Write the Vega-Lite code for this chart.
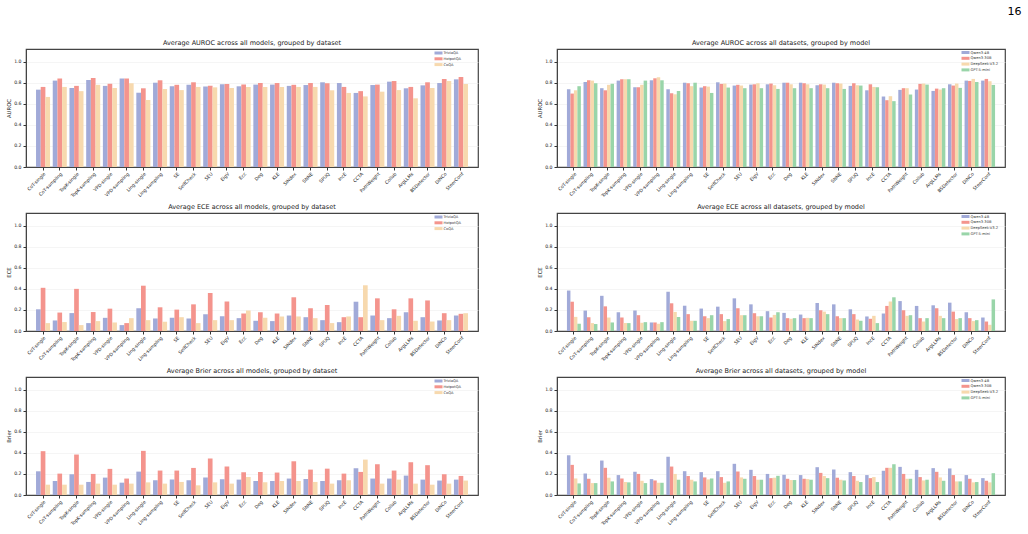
{
"$schema":"https://vega.github.io/schema/vega-lite/v6.json",
"padding":{"left":6,"top":5,"right":8,"bottom":0},
"title":{"text":"16","anchor":"end","fontSize":11,"font":"DejaVu Sans","fontWeight":"normal","color":"#000","dx":16,"offset":22},
"config":{
 "font":"DejaVu Sans",
 "view":{"stroke":"#444","strokeWidth":1.2},
 "title":{"fontSize":6.5,"fontWeight":"normal","color":"#222","offset":3},
 "axis":{"labelFontSize":4.6,"titleFontSize":5.3,"titleFontWeight":"normal","labelColor":"#222","titleColor":"#222","tickColor":"#333","tickSize":3,"domainColor":"#444","gridColor":"#eeeeee","gridWidth":0.6},
 "axisY":{"labelPadding":2,"titlePadding":2},
 "axisX":{"labelPadding":1},
 "legend":{"orient":"none","legendX":408,"legendY":1,"labelFontSize":3.6,"labelColor":"#333","symbolType":"M-1.6,-0.6H1.6V0.6H-1.6Z","symbolSize":25,"symbolStrokeWidth":0,"rowPadding":0.8,"labelOffset":2.5,"padding":0,"title":null,"symbolOpacity":1}
},
"datasets":{
"ds":[
{"method":"CoT-single","group":"TriviaQA","metric":"AUROC","value":0.734},{"method":"CoT-single","group":"HotpotQA","metric":"AUROC","value":0.760},{"method":"CoT-single","group":"CoQA","metric":"AUROC","value":0.665},
{"method":"CoT-sampling","group":"TriviaQA","metric":"AUROC","value":0.820},{"method":"CoT-sampling","group":"HotpotQA","metric":"AUROC","value":0.840},{"method":"CoT-sampling","group":"CoQA","metric":"AUROC","value":0.760},
{"method":"TopK-single","group":"TriviaQA","metric":"AUROC","value":0.750},{"method":"TopK-single","group":"HotpotQA","metric":"AUROC","value":0.770},{"method":"TopK-single","group":"CoQA","metric":"AUROC","value":0.720},
{"method":"TopK-sampling","group":"TriviaQA","metric":"AUROC","value":0.826},{"method":"TopK-sampling","group":"HotpotQA","metric":"AUROC","value":0.845},{"method":"TopK-sampling","group":"CoQA","metric":"AUROC","value":0.780},
{"method":"VPD-single","group":"TriviaQA","metric":"AUROC","value":0.770},{"method":"VPD-single","group":"HotpotQA","metric":"AUROC","value":0.790},{"method":"VPD-single","group":"CoQA","metric":"AUROC","value":0.750},
{"method":"VPD-sampling","group":"TriviaQA","metric":"AUROC","value":0.840},{"method":"VPD-sampling","group":"HotpotQA","metric":"AUROC","value":0.840},{"method":"VPD-sampling","group":"CoQA","metric":"AUROC","value":0.795},
{"method":"Ling-single","group":"TriviaQA","metric":"AUROC","value":0.705},{"method":"Ling-single","group":"HotpotQA","metric":"AUROC","value":0.747},{"method":"Ling-single","group":"CoQA","metric":"AUROC","value":0.636},
{"method":"Ling-sampling","group":"TriviaQA","metric":"AUROC","value":0.800},{"method":"Ling-sampling","group":"HotpotQA","metric":"AUROC","value":0.823},{"method":"Ling-sampling","group":"CoQA","metric":"AUROC","value":0.740},
{"method":"SE","group":"TriviaQA","metric":"AUROC","value":0.766},{"method":"SE","group":"HotpotQA","metric":"AUROC","value":0.780},{"method":"SE","group":"CoQA","metric":"AUROC","value":0.730},
{"method":"SelfCheck","group":"TriviaQA","metric":"AUROC","value":0.780},{"method":"SelfCheck","group":"HotpotQA","metric":"AUROC","value":0.804},{"method":"SelfCheck","group":"CoQA","metric":"AUROC","value":0.760},
{"method":"SEU","group":"TriviaQA","metric":"AUROC","value":0.763},{"method":"SEU","group":"HotpotQA","metric":"AUROC","value":0.772},{"method":"SEU","group":"CoQA","metric":"AUROC","value":0.756},
{"method":"EigV","group":"TriviaQA","metric":"AUROC","value":0.785},{"method":"EigV","group":"HotpotQA","metric":"AUROC","value":0.788},{"method":"EigV","group":"CoQA","metric":"AUROC","value":0.750},
{"method":"Ecc","group":"TriviaQA","metric":"AUROC","value":0.766},{"method":"Ecc","group":"HotpotQA","metric":"AUROC","value":0.782},{"method":"Ecc","group":"CoQA","metric":"AUROC","value":0.760},
{"method":"Deg","group":"TriviaQA","metric":"AUROC","value":0.782},{"method":"Deg","group":"HotpotQA","metric":"AUROC","value":0.797},{"method":"Deg","group":"CoQA","metric":"AUROC","value":0.760},
{"method":"KLE","group":"TriviaQA","metric":"AUROC","value":0.782},{"method":"KLE","group":"HotpotQA","metric":"AUROC","value":0.797},{"method":"KLE","group":"CoQA","metric":"AUROC","value":0.760},
{"method":"SINdex","group":"TriviaQA","metric":"AUROC","value":0.770},{"method":"SINdex","group":"HotpotQA","metric":"AUROC","value":0.780},{"method":"SINdex","group":"CoQA","metric":"AUROC","value":0.760},
{"method":"SNNE","group":"TriviaQA","metric":"AUROC","value":0.778},{"method":"SNNE","group":"HotpotQA","metric":"AUROC","value":0.797},{"method":"SNNE","group":"CoQA","metric":"AUROC","value":0.760},
{"method":"SPUQ","group":"TriviaQA","metric":"AUROC","value":0.804},{"method":"SPUQ","group":"HotpotQA","metric":"AUROC","value":0.795},{"method":"SPUQ","group":"CoQA","metric":"AUROC","value":0.728},
{"method":"IncE","group":"TriviaQA","metric":"AUROC","value":0.797},{"method":"IncE","group":"HotpotQA","metric":"AUROC","value":0.760},{"method":"IncE","group":"CoQA","metric":"AUROC","value":0.703},
{"method":"CCTA","group":"TriviaQA","metric":"AUROC","value":0.703},{"method":"CCTA","group":"HotpotQA","metric":"AUROC","value":0.720},{"method":"CCTA","group":"CoQA","metric":"AUROC","value":0.670},
{"method":"PathWeight","group":"TriviaQA","metric":"AUROC","value":0.778},{"method":"PathWeight","group":"HotpotQA","metric":"AUROC","value":0.782},{"method":"PathWeight","group":"CoQA","metric":"AUROC","value":0.715},
{"method":"Collab","group":"TriviaQA","metric":"AUROC","value":0.810},{"method":"Collab","group":"HotpotQA","metric":"AUROC","value":0.816},{"method":"Collab","group":"CoQA","metric":"AUROC","value":0.730},
{"method":"ArgLLMs","group":"TriviaQA","metric":"AUROC","value":0.747},{"method":"ArgLLMs","group":"HotpotQA","metric":"AUROC","value":0.760},{"method":"ArgLLMs","group":"CoQA","metric":"AUROC","value":0.652},
{"method":"BSDetector","group":"TriviaQA","metric":"AUROC","value":0.775},{"method":"BSDetector","group":"HotpotQA","metric":"AUROC","value":0.804},{"method":"BSDetector","group":"CoQA","metric":"AUROC","value":0.750},
{"method":"DiNCo","group":"TriviaQA","metric":"AUROC","value":0.797},{"method":"DiNCo","group":"HotpotQA","metric":"AUROC","value":0.835},{"method":"DiNCo","group":"CoQA","metric":"AUROC","value":0.816},
{"method":"SteerConf","group":"TriviaQA","metric":"AUROC","value":0.832},{"method":"SteerConf","group":"HotpotQA","metric":"AUROC","value":0.854},{"method":"SteerConf","group":"CoQA","metric":"AUROC","value":0.788},

{"method":"CoT-single","group":"TriviaQA","metric":"ECE","value":0.206},{"method":"CoT-single","group":"HotpotQA","metric":"ECE","value":0.410},{"method":"CoT-single","group":"CoQA","metric":"ECE","value":0.075},
{"method":"CoT-sampling","group":"TriviaQA","metric":"ECE","value":0.100},{"method":"CoT-sampling","group":"HotpotQA","metric":"ECE","value":0.175},{"method":"CoT-sampling","group":"CoQA","metric":"ECE","value":0.085},
{"method":"TopK-single","group":"TriviaQA","metric":"ECE","value":0.170},{"method":"TopK-single","group":"HotpotQA","metric":"ECE","value":0.400},{"method":"TopK-single","group":"CoQA","metric":"ECE","value":0.056},
{"method":"TopK-sampling","group":"TriviaQA","metric":"ECE","value":0.075},{"method":"TopK-sampling","group":"HotpotQA","metric":"ECE","value":0.180},{"method":"TopK-sampling","group":"CoQA","metric":"ECE","value":0.094},
{"method":"VPD-single","group":"TriviaQA","metric":"ECE","value":0.125},{"method":"VPD-single","group":"HotpotQA","metric":"ECE","value":0.212},{"method":"VPD-single","group":"CoQA","metric":"ECE","value":0.081},
{"method":"VPD-sampling","group":"TriviaQA","metric":"ECE","value":0.056},{"method":"VPD-sampling","group":"HotpotQA","metric":"ECE","value":0.075},{"method":"VPD-sampling","group":"CoQA","metric":"ECE","value":0.122},
{"method":"Ling-single","group":"TriviaQA","metric":"ECE","value":0.216},{"method":"Ling-single","group":"HotpotQA","metric":"ECE","value":0.430},{"method":"Ling-single","group":"CoQA","metric":"ECE","value":0.103},
{"method":"Ling-sampling","group":"TriviaQA","metric":"ECE","value":0.119},{"method":"Ling-sampling","group":"HotpotQA","metric":"ECE","value":0.225},{"method":"Ling-sampling","group":"CoQA","metric":"ECE","value":0.088},
{"method":"SE","group":"TriviaQA","metric":"ECE","value":0.125},{"method":"SE","group":"HotpotQA","metric":"ECE","value":0.203},{"method":"SE","group":"CoQA","metric":"ECE","value":0.131},
{"method":"SelfCheck","group":"TriviaQA","metric":"ECE","value":0.119},{"method":"SelfCheck","group":"HotpotQA","metric":"ECE","value":0.253},{"method":"SelfCheck","group":"CoQA","metric":"ECE","value":0.075},
{"method":"SEU","group":"TriviaQA","metric":"ECE","value":0.160},{"method":"SEU","group":"HotpotQA","metric":"ECE","value":0.360},{"method":"SEU","group":"CoQA","metric":"ECE","value":0.103},
{"method":"EigV","group":"TriviaQA","metric":"ECE","value":0.140},{"method":"EigV","group":"HotpotQA","metric":"ECE","value":0.280},{"method":"EigV","group":"CoQA","metric":"ECE","value":0.103},
{"method":"Ecc","group":"TriviaQA","metric":"ECE","value":0.122},{"method":"Ecc","group":"HotpotQA","metric":"ECE","value":0.166},{"method":"Ecc","group":"CoQA","metric":"ECE","value":0.194},
{"method":"Deg","group":"TriviaQA","metric":"ECE","value":0.097},{"method":"Deg","group":"HotpotQA","metric":"ECE","value":0.178},{"method":"Deg","group":"CoQA","metric":"ECE","value":0.125},
{"method":"KLE","group":"TriviaQA","metric":"ECE","value":0.094},{"method":"KLE","group":"HotpotQA","metric":"ECE","value":0.166},{"method":"KLE","group":"CoQA","metric":"ECE","value":0.138},
{"method":"SINdex","group":"TriviaQA","metric":"ECE","value":0.147},{"method":"SINdex","group":"HotpotQA","metric":"ECE","value":0.320},{"method":"SINdex","group":"CoQA","metric":"ECE","value":0.138},
{"method":"SNNE","group":"TriviaQA","metric":"ECE","value":0.131},{"method":"SNNE","group":"HotpotQA","metric":"ECE","value":0.216},{"method":"SNNE","group":"CoQA","metric":"ECE","value":0.122},
{"method":"SPUQ","group":"TriviaQA","metric":"ECE","value":0.103},{"method":"SPUQ","group":"HotpotQA","metric":"ECE","value":0.247},{"method":"SPUQ","group":"CoQA","metric":"ECE","value":0.075},
{"method":"IncE","group":"TriviaQA","metric":"ECE","value":0.084},{"method":"IncE","group":"HotpotQA","metric":"ECE","value":0.131},{"method":"IncE","group":"CoQA","metric":"ECE","value":0.138},
{"method":"CCTA","group":"TriviaQA","metric":"ECE","value":0.278},{"method":"CCTA","group":"HotpotQA","metric":"ECE","value":0.131},{"method":"CCTA","group":"CoQA","metric":"ECE","value":0.434},
{"method":"PathWeight","group":"TriviaQA","metric":"ECE","value":0.147},{"method":"PathWeight","group":"HotpotQA","metric":"ECE","value":0.310},{"method":"PathWeight","group":"CoQA","metric":"ECE","value":0.103},
{"method":"Collab","group":"TriviaQA","metric":"ECE","value":0.122},{"method":"Collab","group":"HotpotQA","metric":"ECE","value":0.206},{"method":"Collab","group":"CoQA","metric":"ECE","value":0.144},
{"method":"ArgLLMs","group":"TriviaQA","metric":"ECE","value":0.178},{"method":"ArgLLMs","group":"HotpotQA","metric":"ECE","value":0.310},{"method":"ArgLLMs","group":"CoQA","metric":"ECE","value":0.097},
{"method":"BSDetector","group":"TriviaQA","metric":"ECE","value":0.131},{"method":"BSDetector","group":"HotpotQA","metric":"ECE","value":0.290},{"method":"BSDetector","group":"CoQA","metric":"ECE","value":0.090},
{"method":"DiNCo","group":"TriviaQA","metric":"ECE","value":0.100},{"method":"DiNCo","group":"HotpotQA","metric":"ECE","value":0.169},{"method":"DiNCo","group":"CoQA","metric":"ECE","value":0.103},
{"method":"SteerConf","group":"TriviaQA","metric":"ECE","value":0.147},{"method":"SteerConf","group":"HotpotQA","metric":"ECE","value":0.163},{"method":"SteerConf","group":"CoQA","metric":"ECE","value":0.169},

{"method":"CoT-single","group":"TriviaQA","metric":"Brier","value":0.225},{"method":"CoT-single","group":"HotpotQA","metric":"Brier","value":0.416},{"method":"CoT-single","group":"CoQA","metric":"Brier","value":0.098},
{"method":"CoT-sampling","group":"TriviaQA","metric":"Brier","value":0.133},{"method":"CoT-sampling","group":"HotpotQA","metric":"Brier","value":0.203},{"method":"CoT-sampling","group":"CoQA","metric":"Brier","value":0.098},
{"method":"TopK-single","group":"TriviaQA","metric":"Brier","value":0.197},{"method":"TopK-single","group":"HotpotQA","metric":"Brier","value":0.384},{"method":"TopK-single","group":"CoQA","metric":"Brier","value":0.098},
{"method":"TopK-sampling","group":"TriviaQA","metric":"Brier","value":0.124},{"method":"TopK-sampling","group":"HotpotQA","metric":"Brier","value":0.200},{"method":"TopK-sampling","group":"CoQA","metric":"Brier","value":0.108},
{"method":"VPD-single","group":"TriviaQA","metric":"Brier","value":0.165},{"method":"VPD-single","group":"HotpotQA","metric":"Brier","value":0.248},{"method":"VPD-single","group":"CoQA","metric":"Brier","value":0.098},
{"method":"VPD-sampling","group":"TriviaQA","metric":"Brier","value":0.117},{"method":"VPD-sampling","group":"HotpotQA","metric":"Brier","value":0.156},{"method":"VPD-sampling","group":"CoQA","metric":"Brier","value":0.108},
{"method":"Ling-single","group":"TriviaQA","metric":"Brier","value":0.222},{"method":"Ling-single","group":"HotpotQA","metric":"Brier","value":0.419},{"method":"Ling-single","group":"CoQA","metric":"Brier","value":0.120},
{"method":"Ling-sampling","group":"TriviaQA","metric":"Brier","value":0.140},{"method":"Ling-sampling","group":"HotpotQA","metric":"Brier","value":0.232},{"method":"Ling-sampling","group":"CoQA","metric":"Brier","value":0.108},
{"method":"SE","group":"TriviaQA","metric":"Brier","value":0.146},{"method":"SE","group":"HotpotQA","metric":"Brier","value":0.232},{"method":"SE","group":"CoQA","metric":"Brier","value":0.124},
{"method":"SelfCheck","group":"TriviaQA","metric":"Brier","value":0.140},{"method":"SelfCheck","group":"HotpotQA","metric":"Brier","value":0.257},{"method":"SelfCheck","group":"CoQA","metric":"Brier","value":0.092},
{"method":"SEU","group":"TriviaQA","metric":"Brier","value":0.165},{"method":"SEU","group":"HotpotQA","metric":"Brier","value":0.346},{"method":"SEU","group":"CoQA","metric":"Brier","value":0.120},
{"method":"EigV","group":"TriviaQA","metric":"Brier","value":0.149},{"method":"EigV","group":"HotpotQA","metric":"Brier","value":0.270},{"method":"EigV","group":"CoQA","metric":"Brier","value":0.108},
{"method":"Ecc","group":"TriviaQA","metric":"Brier","value":0.146},{"method":"Ecc","group":"HotpotQA","metric":"Brier","value":0.216},{"method":"Ecc","group":"CoQA","metric":"Brier","value":0.171},
{"method":"Deg","group":"TriviaQA","metric":"Brier","value":0.133},{"method":"Deg","group":"HotpotQA","metric":"Brier","value":0.219},{"method":"Deg","group":"CoQA","metric":"Brier","value":0.120},
{"method":"KLE","group":"TriviaQA","metric":"Brier","value":0.133},{"method":"KLE","group":"HotpotQA","metric":"Brier","value":0.213},{"method":"KLE","group":"CoQA","metric":"Brier","value":0.133},
{"method":"SINdex","group":"TriviaQA","metric":"Brier","value":0.156},{"method":"SINdex","group":"HotpotQA","metric":"Brier","value":0.320},{"method":"SINdex","group":"CoQA","metric":"Brier","value":0.133},
{"method":"SNNE","group":"TriviaQA","metric":"Brier","value":0.152},{"method":"SNNE","group":"HotpotQA","metric":"Brier","value":0.241},{"method":"SNNE","group":"CoQA","metric":"Brier","value":0.124},
{"method":"SPUQ","group":"TriviaQA","metric":"Brier","value":0.133},{"method":"SPUQ","group":"HotpotQA","metric":"Brier","value":0.250},{"method":"SPUQ","group":"CoQA","metric":"Brier","value":0.108},
{"method":"IncE","group":"TriviaQA","metric":"Brier","value":0.140},{"method":"IncE","group":"HotpotQA","metric":"Brier","value":0.203},{"method":"IncE","group":"CoQA","metric":"Brier","value":0.140},
{"method":"CCTA","group":"TriviaQA","metric":"Brier","value":0.254},{"method":"CCTA","group":"HotpotQA","metric":"Brier","value":0.219},{"method":"CCTA","group":"CoQA","metric":"Brier","value":0.336},
{"method":"PathWeight","group":"TriviaQA","metric":"Brier","value":0.156},{"method":"PathWeight","group":"HotpotQA","metric":"Brier","value":0.292},{"method":"PathWeight","group":"CoQA","metric":"Brier","value":0.108},
{"method":"Collab","group":"TriviaQA","metric":"Brier","value":0.156},{"method":"Collab","group":"HotpotQA","metric":"Brier","value":0.232},{"method":"Collab","group":"CoQA","metric":"Brier","value":0.146},
{"method":"ArgLLMs","group":"TriviaQA","metric":"Brier","value":0.184},{"method":"ArgLLMs","group":"HotpotQA","metric":"Brier","value":0.311},{"method":"ArgLLMs","group":"CoQA","metric":"Brier","value":0.108},
{"method":"BSDetector","group":"TriviaQA","metric":"Brier","value":0.146},{"method":"BSDetector","group":"HotpotQA","metric":"Brier","value":0.283},{"method":"BSDetector","group":"CoQA","metric":"Brier","value":0.098},
{"method":"DiNCo","group":"TriviaQA","metric":"Brier","value":0.137},{"method":"DiNCo","group":"HotpotQA","metric":"Brier","value":0.197},{"method":"DiNCo","group":"CoQA","metric":"Brier","value":0.108},
{"method":"SteerConf","group":"TriviaQA","metric":"Brier","value":0.146},{"method":"SteerConf","group":"HotpotQA","metric":"Brier","value":0.181},{"method":"SteerConf","group":"CoQA","metric":"Brier","value":0.137}
],
"md":[
{"method":"CoT-single","group":"Qwen3-4B","metric":"AUROC","value":0.738},{"method":"CoT-single","group":"Qwen3-30B","metric":"AUROC","value":0.697},{"method":"CoT-single","group":"DeepSeek-V3.2","metric":"AUROC","value":0.728},{"method":"CoT-single","group":"GPT-5-mini","metric":"AUROC","value":0.767},
{"method":"CoT-sampling","group":"Qwen3-4B","metric":"AUROC","value":0.807},{"method":"CoT-sampling","group":"Qwen3-30B","metric":"AUROC","value":0.823},{"method":"CoT-sampling","group":"DeepSeek-V3.2","metric":"AUROC","value":0.820},{"method":"CoT-sampling","group":"GPT-5-mini","metric":"AUROC","value":0.795},
{"method":"TopK-single","group":"Qwen3-4B","metric":"AUROC","value":0.748},{"method":"TopK-single","group":"Qwen3-30B","metric":"AUROC","value":0.728},{"method":"TopK-single","group":"DeepSeek-V3.2","metric":"AUROC","value":0.780},{"method":"TopK-single","group":"GPT-5-mini","metric":"AUROC","value":0.790},
{"method":"TopK-sampling","group":"Qwen3-4B","metric":"AUROC","value":0.820},{"method":"TopK-sampling","group":"Qwen3-30B","metric":"AUROC","value":0.833},{"method":"TopK-sampling","group":"DeepSeek-V3.2","metric":"AUROC","value":0.833},{"method":"TopK-sampling","group":"GPT-5-mini","metric":"AUROC","value":0.833},
{"method":"VPD-single","group":"Qwen3-4B","metric":"AUROC","value":0.757},{"method":"VPD-single","group":"Qwen3-30B","metric":"AUROC","value":0.757},{"method":"VPD-single","group":"DeepSeek-V3.2","metric":"AUROC","value":0.780},{"method":"VPD-single","group":"GPT-5-mini","metric":"AUROC","value":0.820},
{"method":"VPD-sampling","group":"Qwen3-4B","metric":"AUROC","value":0.823},{"method":"VPD-sampling","group":"Qwen3-30B","metric":"AUROC","value":0.842},{"method":"VPD-sampling","group":"DeepSeek-V3.2","metric":"AUROC","value":0.852},{"method":"VPD-sampling","group":"GPT-5-mini","metric":"AUROC","value":0.823},
{"method":"Ling-single","group":"Qwen3-4B","metric":"AUROC","value":0.738},{"method":"Ling-single","group":"Qwen3-30B","metric":"AUROC","value":0.700},{"method":"Ling-single","group":"DeepSeek-V3.2","metric":"AUROC","value":0.690},{"method":"Ling-single","group":"GPT-5-mini","metric":"AUROC","value":0.722},
{"method":"Ling-sampling","group":"Qwen3-4B","metric":"AUROC","value":0.800},{"method":"Ling-sampling","group":"Qwen3-30B","metric":"AUROC","value":0.795},{"method":"Ling-sampling","group":"DeepSeek-V3.2","metric":"AUROC","value":0.767},{"method":"Ling-sampling","group":"GPT-5-mini","metric":"AUROC","value":0.800},
{"method":"SE","group":"Qwen3-4B","metric":"AUROC","value":0.754},{"method":"SE","group":"Qwen3-30B","metric":"AUROC","value":0.767},{"method":"SE","group":"DeepSeek-V3.2","metric":"AUROC","value":0.763},{"method":"SE","group":"GPT-5-mini","metric":"AUROC","value":0.703},
{"method":"SelfCheck","group":"Qwen3-4B","metric":"AUROC","value":0.804},{"method":"SelfCheck","group":"Qwen3-30B","metric":"AUROC","value":0.789},{"method":"SelfCheck","group":"DeepSeek-V3.2","metric":"AUROC","value":0.792},{"method":"SelfCheck","group":"GPT-5-mini","metric":"AUROC","value":0.754},
{"method":"SEU","group":"Qwen3-4B","metric":"AUROC","value":0.773},{"method":"SEU","group":"Qwen3-30B","metric":"AUROC","value":0.780},{"method":"SEU","group":"DeepSeek-V3.2","metric":"AUROC","value":0.773},{"method":"SEU","group":"GPT-5-mini","metric":"AUROC","value":0.748},
{"method":"EigV","group":"Qwen3-4B","metric":"AUROC","value":0.782},{"method":"EigV","group":"Qwen3-30B","metric":"AUROC","value":0.785},{"method":"EigV","group":"DeepSeek-V3.2","metric":"AUROC","value":0.795},{"method":"EigV","group":"GPT-5-mini","metric":"AUROC","value":0.748},
{"method":"Ecc","group":"Qwen3-4B","metric":"AUROC","value":0.785},{"method":"Ecc","group":"Qwen3-30B","metric":"AUROC","value":0.792},{"method":"Ecc","group":"DeepSeek-V3.2","metric":"AUROC","value":0.776},{"method":"Ecc","group":"GPT-5-mini","metric":"AUROC","value":0.741},
{"method":"Deg","group":"Qwen3-4B","metric":"AUROC","value":0.800},{"method":"Deg","group":"Qwen3-30B","metric":"AUROC","value":0.800},{"method":"Deg","group":"DeepSeek-V3.2","metric":"AUROC","value":0.785},{"method":"Deg","group":"GPT-5-mini","metric":"AUROC","value":0.748},
{"method":"KLE","group":"Qwen3-4B","metric":"AUROC","value":0.800},{"method":"KLE","group":"Qwen3-30B","metric":"AUROC","value":0.795},{"method":"KLE","group":"DeepSeek-V3.2","metric":"AUROC","value":0.785},{"method":"KLE","group":"GPT-5-mini","metric":"AUROC","value":0.748},
{"method":"SINdex","group":"Qwen3-4B","metric":"AUROC","value":0.776},{"method":"SINdex","group":"Qwen3-30B","metric":"AUROC","value":0.785},{"method":"SINdex","group":"DeepSeek-V3.2","metric":"AUROC","value":0.782},{"method":"SINdex","group":"GPT-5-mini","metric":"AUROC","value":0.748},
{"method":"SNNE","group":"Qwen3-4B","metric":"AUROC","value":0.800},{"method":"SNNE","group":"Qwen3-30B","metric":"AUROC","value":0.795},{"method":"SNNE","group":"DeepSeek-V3.2","metric":"AUROC","value":0.792},{"method":"SNNE","group":"GPT-5-mini","metric":"AUROC","value":0.741},
{"method":"SPUQ","group":"Qwen3-4B","metric":"AUROC","value":0.770},{"method":"SPUQ","group":"Qwen3-30B","metric":"AUROC","value":0.795},{"method":"SPUQ","group":"DeepSeek-V3.2","metric":"AUROC","value":0.776},{"method":"SPUQ","group":"GPT-5-mini","metric":"AUROC","value":0.773},
{"method":"IncE","group":"Qwen3-4B","metric":"AUROC","value":0.728},{"method":"IncE","group":"Qwen3-30B","metric":"AUROC","value":0.785},{"method":"IncE","group":"DeepSeek-V3.2","metric":"AUROC","value":0.760},{"method":"IncE","group":"GPT-5-mini","metric":"AUROC","value":0.757},
{"method":"CCTA","group":"Qwen3-4B","metric":"AUROC","value":0.669},{"method":"CCTA","group":"Qwen3-30B","metric":"AUROC","value":0.634},{"method":"CCTA","group":"DeepSeek-V3.2","metric":"AUROC","value":0.672},{"method":"CCTA","group":"GPT-5-mini","metric":"AUROC","value":0.625},
{"method":"PathWeight","group":"Qwen3-4B","metric":"AUROC","value":0.732},{"method":"PathWeight","group":"Qwen3-30B","metric":"AUROC","value":0.748},{"method":"PathWeight","group":"DeepSeek-V3.2","metric":"AUROC","value":0.748},{"method":"PathWeight","group":"GPT-5-mini","metric":"AUROC","value":0.688},
{"method":"Collab","group":"Qwen3-4B","metric":"AUROC","value":0.735},{"method":"Collab","group":"Qwen3-30B","metric":"AUROC","value":0.789},{"method":"Collab","group":"DeepSeek-V3.2","metric":"AUROC","value":0.792},{"method":"Collab","group":"GPT-5-mini","metric":"AUROC","value":0.782},
{"method":"ArgLLMs","group":"Qwen3-4B","metric":"AUROC","value":0.722},{"method":"ArgLLMs","group":"Qwen3-30B","metric":"AUROC","value":0.744},{"method":"ArgLLMs","group":"DeepSeek-V3.2","metric":"AUROC","value":0.735},{"method":"ArgLLMs","group":"GPT-5-mini","metric":"AUROC","value":0.748},
{"method":"BSDetector","group":"Qwen3-4B","metric":"AUROC","value":0.785},{"method":"BSDetector","group":"Qwen3-30B","metric":"AUROC","value":0.773},{"method":"BSDetector","group":"DeepSeek-V3.2","metric":"AUROC","value":0.792},{"method":"BSDetector","group":"GPT-5-mini","metric":"AUROC","value":0.751},
{"method":"DiNCo","group":"Qwen3-4B","metric":"AUROC","value":0.820},{"method":"DiNCo","group":"Qwen3-30B","metric":"AUROC","value":0.817},{"method":"DiNCo","group":"DeepSeek-V3.2","metric":"AUROC","value":0.836},{"method":"DiNCo","group":"GPT-5-mini","metric":"AUROC","value":0.807},
{"method":"SteerConf","group":"Qwen3-4B","metric":"AUROC","value":0.820},{"method":"SteerConf","group":"Qwen3-30B","metric":"AUROC","value":0.836},{"method":"SteerConf","group":"DeepSeek-V3.2","metric":"AUROC","value":0.814},{"method":"SteerConf","group":"GPT-5-mini","metric":"AUROC","value":0.779},

{"method":"CoT-single","group":"Qwen3-4B","metric":"ECE","value":0.384},{"method":"CoT-single","group":"Qwen3-30B","metric":"ECE","value":0.278},{"method":"CoT-single","group":"DeepSeek-V3.2","metric":"ECE","value":0.134},{"method":"CoT-single","group":"GPT-5-mini","metric":"ECE","value":0.069},
{"method":"CoT-sampling","group":"Qwen3-4B","metric":"ECE","value":0.194},{"method":"CoT-sampling","group":"Qwen3-30B","metric":"ECE","value":0.131},{"method":"CoT-sampling","group":"DeepSeek-V3.2","metric":"ECE","value":0.075},{"method":"CoT-sampling","group":"GPT-5-mini","metric":"ECE","value":0.066},
{"method":"TopK-single","group":"Qwen3-4B","metric":"ECE","value":0.334},{"method":"TopK-single","group":"Qwen3-30B","metric":"ECE","value":0.234},{"method":"TopK-single","group":"DeepSeek-V3.2","metric":"ECE","value":0.128},{"method":"TopK-single","group":"GPT-5-mini","metric":"ECE","value":0.081},
{"method":"TopK-sampling","group":"Qwen3-4B","metric":"ECE","value":0.178},{"method":"TopK-sampling","group":"Qwen3-30B","metric":"ECE","value":0.128},{"method":"TopK-sampling","group":"DeepSeek-V3.2","metric":"ECE","value":0.075},{"method":"TopK-sampling","group":"GPT-5-mini","metric":"ECE","value":0.075},
{"method":"VPD-single","group":"Qwen3-4B","metric":"ECE","value":0.194},{"method":"VPD-single","group":"Qwen3-30B","metric":"ECE","value":0.150},{"method":"VPD-single","group":"DeepSeek-V3.2","metric":"ECE","value":0.078},{"method":"VPD-single","group":"GPT-5-mini","metric":"ECE","value":0.084},
{"method":"VPD-sampling","group":"Qwen3-4B","metric":"ECE","value":0.081},{"method":"VPD-sampling","group":"Qwen3-30B","metric":"ECE","value":0.081},{"method":"VPD-sampling","group":"DeepSeek-V3.2","metric":"ECE","value":0.069},{"method":"VPD-sampling","group":"GPT-5-mini","metric":"ECE","value":0.084},
{"method":"Ling-single","group":"Qwen3-4B","metric":"ECE","value":0.372},{"method":"Ling-single","group":"Qwen3-30B","metric":"ECE","value":0.263},{"method":"Ling-single","group":"DeepSeek-V3.2","metric":"ECE","value":0.181},{"method":"Ling-single","group":"GPT-5-mini","metric":"ECE","value":0.134},
{"method":"Ling-sampling","group":"Qwen3-4B","metric":"ECE","value":0.240},{"method":"Ling-sampling","group":"Qwen3-30B","metric":"ECE","value":0.160},{"method":"Ling-sampling","group":"DeepSeek-V3.2","metric":"ECE","value":0.097},{"method":"Ling-sampling","group":"GPT-5-mini","metric":"ECE","value":0.097},
{"method":"SE","group":"Qwen3-4B","metric":"ECE","value":0.213},{"method":"SE","group":"Qwen3-30B","metric":"ECE","value":0.140},{"method":"SE","group":"DeepSeek-V3.2","metric":"ECE","value":0.122},{"method":"SE","group":"GPT-5-mini","metric":"ECE","value":0.150},
{"method":"SelfCheck","group":"Qwen3-4B","metric":"ECE","value":0.231},{"method":"SelfCheck","group":"Qwen3-30B","metric":"ECE","value":0.160},{"method":"SelfCheck","group":"DeepSeek-V3.2","metric":"ECE","value":0.094},{"method":"SelfCheck","group":"GPT-5-mini","metric":"ECE","value":0.113},
{"method":"SEU","group":"Qwen3-4B","metric":"ECE","value":0.310},{"method":"SEU","group":"Qwen3-30B","metric":"ECE","value":0.216},{"method":"SEU","group":"DeepSeek-V3.2","metric":"ECE","value":0.150},{"method":"SEU","group":"GPT-5-mini","metric":"ECE","value":0.150},
{"method":"EigV","group":"Qwen3-4B","metric":"ECE","value":0.253},{"method":"EigV","group":"Qwen3-30B","metric":"ECE","value":0.169},{"method":"EigV","group":"DeepSeek-V3.2","metric":"ECE","value":0.140},{"method":"EigV","group":"GPT-5-mini","metric":"ECE","value":0.140},
{"method":"Ecc","group":"Qwen3-4B","metric":"ECE","value":0.188},{"method":"Ecc","group":"Qwen3-30B","metric":"ECE","value":0.128},{"method":"Ecc","group":"DeepSeek-V3.2","metric":"ECE","value":0.153},{"method":"Ecc","group":"GPT-5-mini","metric":"ECE","value":0.178},
{"method":"Deg","group":"Qwen3-4B","metric":"ECE","value":0.172},{"method":"Deg","group":"Qwen3-30B","metric":"ECE","value":0.122},{"method":"Deg","group":"DeepSeek-V3.2","metric":"ECE","value":0.116},{"method":"Deg","group":"GPT-5-mini","metric":"ECE","value":0.122},
{"method":"KLE","group":"Qwen3-4B","metric":"ECE","value":0.156},{"method":"KLE","group":"Qwen3-30B","metric":"ECE","value":0.122},{"method":"KLE","group":"DeepSeek-V3.2","metric":"ECE","value":0.125},{"method":"KLE","group":"GPT-5-mini","metric":"ECE","value":0.122},
{"method":"SINdex","group":"Qwen3-4B","metric":"ECE","value":0.266},{"method":"SINdex","group":"Qwen3-30B","metric":"ECE","value":0.197},{"method":"SINdex","group":"DeepSeek-V3.2","metric":"ECE","value":0.184},{"method":"SINdex","group":"GPT-5-mini","metric":"ECE","value":0.160},
{"method":"SNNE","group":"Qwen3-4B","metric":"ECE","value":0.253},{"method":"SNNE","group":"Qwen3-30B","metric":"ECE","value":0.140},{"method":"SNNE","group":"DeepSeek-V3.2","metric":"ECE","value":0.122},{"method":"SNNE","group":"GPT-5-mini","metric":"ECE","value":0.122},
{"method":"SPUQ","group":"Qwen3-4B","metric":"ECE","value":0.206},{"method":"SPUQ","group":"Qwen3-30B","metric":"ECE","value":0.160},{"method":"SPUQ","group":"DeepSeek-V3.2","metric":"ECE","value":0.109},{"method":"SPUQ","group":"GPT-5-mini","metric":"ECE","value":0.097},
{"method":"IncE","group":"Qwen3-4B","metric":"ECE","value":0.138},{"method":"IncE","group":"Qwen3-30B","metric":"ECE","value":0.116},{"method":"IncE","group":"DeepSeek-V3.2","metric":"ECE","value":0.144},{"method":"IncE","group":"GPT-5-mini","metric":"ECE","value":0.075},
{"method":"CCTA","group":"Qwen3-4B","metric":"ECE","value":0.166},{"method":"CCTA","group":"Qwen3-30B","metric":"ECE","value":0.238},{"method":"CCTA","group":"DeepSeek-V3.2","metric":"ECE","value":0.280},{"method":"CCTA","group":"GPT-5-mini","metric":"ECE","value":0.320},
{"method":"PathWeight","group":"Qwen3-4B","metric":"ECE","value":0.284},{"method":"PathWeight","group":"Qwen3-30B","metric":"ECE","value":0.197},{"method":"PathWeight","group":"DeepSeek-V3.2","metric":"ECE","value":0.144},{"method":"PathWeight","group":"GPT-5-mini","metric":"ECE","value":0.150},
{"method":"Collab","group":"Qwen3-4B","metric":"ECE","value":0.238},{"method":"Collab","group":"Qwen3-30B","metric":"ECE","value":0.122},{"method":"Collab","group":"DeepSeek-V3.2","metric":"ECE","value":0.090},{"method":"Collab","group":"GPT-5-mini","metric":"ECE","value":0.122},
{"method":"ArgLLMs","group":"Qwen3-4B","metric":"ECE","value":0.244},{"method":"ArgLLMs","group":"Qwen3-30B","metric":"ECE","value":0.216},{"method":"ArgLLMs","group":"DeepSeek-V3.2","metric":"ECE","value":0.144},{"method":"ArgLLMs","group":"GPT-5-mini","metric":"ECE","value":0.122},
{"method":"BSDetector","group":"Qwen3-4B","metric":"ECE","value":0.269},{"method":"BSDetector","group":"Qwen3-30B","metric":"ECE","value":0.184},{"method":"BSDetector","group":"DeepSeek-V3.2","metric":"ECE","value":0.113},{"method":"BSDetector","group":"GPT-5-mini","metric":"ECE","value":0.122},
{"method":"DiNCo","group":"Qwen3-4B","metric":"ECE","value":0.178},{"method":"DiNCo","group":"Qwen3-30B","metric":"ECE","value":0.122},{"method":"DiNCo","group":"DeepSeek-V3.2","metric":"ECE","value":0.094},{"method":"DiNCo","group":"GPT-5-mini","metric":"ECE","value":0.103},
{"method":"SteerConf","group":"Qwen3-4B","metric":"ECE","value":0.128},{"method":"SteerConf","group":"Qwen3-30B","metric":"ECE","value":0.090},{"method":"SteerConf","group":"DeepSeek-V3.2","metric":"ECE","value":0.059},{"method":"SteerConf","group":"GPT-5-mini","metric":"ECE","value":0.300},

{"method":"CoT-single","group":"Qwen3-4B","metric":"Brier","value":0.377},{"method":"CoT-single","group":"Qwen3-30B","metric":"Brier","value":0.286},{"method":"CoT-single","group":"DeepSeek-V3.2","metric":"Brier","value":0.157},{"method":"CoT-single","group":"GPT-5-mini","metric":"Brier","value":0.110},
{"method":"CoT-sampling","group":"Qwen3-4B","metric":"Brier","value":0.204},{"method":"CoT-sampling","group":"Qwen3-30B","metric":"Brier","value":0.154},{"method":"CoT-sampling","group":"DeepSeek-V3.2","metric":"Brier","value":0.113},{"method":"CoT-sampling","group":"GPT-5-mini","metric":"Brier","value":0.113},
{"method":"TopK-single","group":"Qwen3-4B","metric":"Brier","value":0.327},{"method":"TopK-single","group":"Qwen3-30B","metric":"Brier","value":0.258},{"method":"TopK-single","group":"DeepSeek-V3.2","metric":"Brier","value":0.164},{"method":"TopK-single","group":"GPT-5-mini","metric":"Brier","value":0.129},
{"method":"TopK-sampling","group":"Qwen3-4B","metric":"Brier","value":0.189},{"method":"TopK-sampling","group":"Qwen3-30B","metric":"Brier","value":0.157},{"method":"TopK-sampling","group":"DeepSeek-V3.2","metric":"Brier","value":0.123},{"method":"TopK-sampling","group":"GPT-5-mini","metric":"Brier","value":0.120},
{"method":"VPD-single","group":"Qwen3-4B","metric":"Brier","value":0.220},{"method":"VPD-single","group":"Qwen3-30B","metric":"Brier","value":0.200},{"method":"VPD-single","group":"DeepSeek-V3.2","metric":"Brier","value":0.135},{"method":"VPD-single","group":"GPT-5-mini","metric":"Brier","value":0.113},
{"method":"VPD-sampling","group":"Qwen3-4B","metric":"Brier","value":0.151},{"method":"VPD-sampling","group":"Qwen3-30B","metric":"Brier","value":0.138},{"method":"VPD-sampling","group":"DeepSeek-V3.2","metric":"Brier","value":0.116},{"method":"VPD-sampling","group":"GPT-5-mini","metric":"Brier","value":0.116},
{"method":"Ling-single","group":"Qwen3-4B","metric":"Brier","value":0.362},{"method":"Ling-single","group":"Qwen3-30B","metric":"Brier","value":0.270},{"method":"Ling-single","group":"DeepSeek-V3.2","metric":"Brier","value":0.200},{"method":"Ling-single","group":"GPT-5-mini","metric":"Brier","value":0.145},
{"method":"Ling-sampling","group":"Qwen3-4B","metric":"Brier","value":0.226},{"method":"Ling-sampling","group":"Qwen3-30B","metric":"Brier","value":0.180},{"method":"Ling-sampling","group":"DeepSeek-V3.2","metric":"Brier","value":0.145},{"method":"Ling-sampling","group":"GPT-5-mini","metric":"Brier","value":0.129},
{"method":"SE","group":"Qwen3-4B","metric":"Brier","value":0.217},{"method":"SE","group":"Qwen3-30B","metric":"Brier","value":0.167},{"method":"SE","group":"DeepSeek-V3.2","metric":"Brier","value":0.148},{"method":"SE","group":"GPT-5-mini","metric":"Brier","value":0.157},
{"method":"SelfCheck","group":"Qwen3-4B","metric":"Brier","value":0.226},{"method":"SelfCheck","group":"Qwen3-30B","metric":"Brier","value":0.170},{"method":"SelfCheck","group":"DeepSeek-V3.2","metric":"Brier","value":0.116},{"method":"SelfCheck","group":"GPT-5-mini","metric":"Brier","value":0.129},
{"method":"SEU","group":"Qwen3-4B","metric":"Brier","value":0.296},{"method":"SEU","group":"Qwen3-30B","metric":"Brier","value":0.223},{"method":"SEU","group":"DeepSeek-V3.2","metric":"Brier","value":0.167},{"method":"SEU","group":"GPT-5-mini","metric":"Brier","value":0.154},
{"method":"EigV","group":"Qwen3-4B","metric":"Brier","value":0.239},{"method":"EigV","group":"Qwen3-30B","metric":"Brier","value":0.180},{"method":"EigV","group":"DeepSeek-V3.2","metric":"Brier","value":0.145},{"method":"EigV","group":"GPT-5-mini","metric":"Brier","value":0.145},
{"method":"Ecc","group":"Qwen3-4B","metric":"Brier","value":0.200},{"method":"Ecc","group":"Qwen3-30B","metric":"Brier","value":0.160},{"method":"Ecc","group":"DeepSeek-V3.2","metric":"Brier","value":0.164},{"method":"Ecc","group":"GPT-5-mini","metric":"Brier","value":0.182},
{"method":"Deg","group":"Qwen3-4B","metric":"Brier","value":0.192},{"method":"Deg","group":"Qwen3-30B","metric":"Brier","value":0.154},{"method":"Deg","group":"DeepSeek-V3.2","metric":"Brier","value":0.142},{"method":"Deg","group":"GPT-5-mini","metric":"Brier","value":0.142},
{"method":"KLE","group":"Qwen3-4B","metric":"Brier","value":0.189},{"method":"KLE","group":"Qwen3-30B","metric":"Brier","value":0.154},{"method":"KLE","group":"DeepSeek-V3.2","metric":"Brier","value":0.151},{"method":"KLE","group":"GPT-5-mini","metric":"Brier","value":0.145},
{"method":"SINdex","group":"Qwen3-4B","metric":"Brier","value":0.264},{"method":"SINdex","group":"Qwen3-30B","metric":"Brier","value":0.210},{"method":"SINdex","group":"DeepSeek-V3.2","metric":"Brier","value":0.180},{"method":"SINdex","group":"GPT-5-mini","metric":"Brier","value":0.160},
{"method":"SNNE","group":"Qwen3-4B","metric":"Brier","value":0.242},{"method":"SNNE","group":"Qwen3-30B","metric":"Brier","value":0.164},{"method":"SNNE","group":"DeepSeek-V3.2","metric":"Brier","value":0.145},{"method":"SNNE","group":"GPT-5-mini","metric":"Brier","value":0.138},
{"method":"SPUQ","group":"Qwen3-4B","metric":"Brier","value":0.217},{"method":"SPUQ","group":"Qwen3-30B","metric":"Brier","value":0.180},{"method":"SPUQ","group":"DeepSeek-V3.2","metric":"Brier","value":0.135},{"method":"SPUQ","group":"GPT-5-mini","metric":"Brier","value":0.123},
{"method":"IncE","group":"Qwen3-4B","metric":"Brier","value":0.189},{"method":"IncE","group":"Qwen3-30B","metric":"Brier","value":0.160},{"method":"IncE","group":"DeepSeek-V3.2","metric":"Brier","value":0.170},{"method":"IncE","group":"GPT-5-mini","metric":"Brier","value":0.123},
{"method":"CCTA","group":"Qwen3-4B","metric":"Brier","value":0.230},{"method":"CCTA","group":"Qwen3-30B","metric":"Brier","value":0.258},{"method":"CCTA","group":"DeepSeek-V3.2","metric":"Brier","value":0.258},{"method":"CCTA","group":"GPT-5-mini","metric":"Brier","value":0.292},
{"method":"PathWeight","group":"Qwen3-4B","metric":"Brier","value":0.267},{"method":"PathWeight","group":"Qwen3-30B","metric":"Brier","value":0.200},{"method":"PathWeight","group":"DeepSeek-V3.2","metric":"Brier","value":0.154},{"method":"PathWeight","group":"GPT-5-mini","metric":"Brier","value":0.154},
{"method":"Collab","group":"Qwen3-4B","metric":"Brier","value":0.239},{"method":"Collab","group":"Qwen3-30B","metric":"Brier","value":0.170},{"method":"Collab","group":"DeepSeek-V3.2","metric":"Brier","value":0.138},{"method":"Collab","group":"GPT-5-mini","metric":"Brier","value":0.145},
{"method":"ArgLLMs","group":"Qwen3-4B","metric":"Brier","value":0.255},{"method":"ArgLLMs","group":"Qwen3-30B","metric":"Brier","value":0.220},{"method":"ArgLLMs","group":"DeepSeek-V3.2","metric":"Brier","value":0.167},{"method":"ArgLLMs","group":"GPT-5-mini","metric":"Brier","value":0.135},
{"method":"BSDetector","group":"Qwen3-4B","metric":"Brier","value":0.252},{"method":"BSDetector","group":"Qwen3-30B","metric":"Brier","value":0.189},{"method":"BSDetector","group":"DeepSeek-V3.2","metric":"Brier","value":0.129},{"method":"BSDetector","group":"GPT-5-mini","metric":"Brier","value":0.129},
{"method":"DiNCo","group":"Qwen3-4B","metric":"Brier","value":0.189},{"method":"DiNCo","group":"Qwen3-30B","metric":"Brier","value":0.154},{"method":"DiNCo","group":"DeepSeek-V3.2","metric":"Brier","value":0.120},{"method":"DiNCo","group":"GPT-5-mini","metric":"Brier","value":0.123},
{"method":"SteerConf","group":"Qwen3-4B","metric":"Brier","value":0.160},{"method":"SteerConf","group":"Qwen3-30B","metric":"Brier","value":0.135},{"method":"SteerConf","group":"DeepSeek-V3.2","metric":"Brier","value":0.120},{"method":"SteerConf","group":"GPT-5-mini","metric":"Brier","value":0.207}
]
},
"columns":2,
"spacing":{"row":3,"column":58},
"resolve":{"scale":{"color":"independent","x":"independent","y":"independent","xOffset":"independent"},"legend":{"color":"independent"}},
"concat":[
{"data":{"name":"ds"},"transform":[{"filter":"datum.metric === 'AUROC'"}],"title":"Average AUROC across all models, grouped by dataset","width":452,"height":118,"mark":{"type":"bar"},
 "encoding":{
  "x":{"field":"method","type":"nominal","scale":{"domain":["CoT-single","CoT-sampling","TopK-single","TopK-sampling","VPD-single","VPD-sampling","Ling-single","Ling-sampling","SE","SelfCheck","SEU","EigV","Ecc","Deg","KLE","SINdex","SNNE","SPUQ","IncE","CCTA","PathWeight","Collab","ArgLLMs","BSDetector","DiNCo","SteerConf"],"paddingInner":0.16,"paddingOuter":0.6},"axis":{"title":null,"labelAngle":-45}},
  "xOffset":{"field":"group","type":"nominal","scale":{"domain":["TriviaQA","HotpotQA","CoQA"]}},
  "y":{"field":"value","type":"quantitative","scale":{"domain":[0,1.12],"nice":false},"axis":{"title":"AUROC","values":[0,0.2,0.4,0.6,0.8,1.0],"format":".1f"}},
  "color":{"field":"group","type":"nominal","scale":{"domain":["TriviaQA","HotpotQA","CoQA"],"range":["#a1aad8","#f4948d","#f7d9ae"]},"legend":{"legendX":410,"legendY":1.5}}}},
{"data":{"name":"md"},"transform":[{"filter":"datum.metric === 'AUROC'"}],"title":"Average AUROC across all datasets, grouped by model","width":448,"height":118,"mark":{"type":"bar"},
 "encoding":{
  "x":{"field":"method","type":"nominal","scale":{"domain":["CoT-single","CoT-sampling","TopK-single","TopK-sampling","VPD-single","VPD-sampling","Ling-single","Ling-sampling","SE","SelfCheck","SEU","EigV","Ecc","Deg","KLE","SINdex","SNNE","SPUQ","IncE","CCTA","PathWeight","Collab","ArgLLMs","BSDetector","DiNCo","SteerConf"],"paddingInner":0.16,"paddingOuter":0.6},"axis":{"title":null,"labelAngle":-45}},
  "xOffset":{"field":"group","type":"nominal","scale":{"domain":["Qwen3-4B","Qwen3-30B","DeepSeek-V3.2","GPT-5-mini"]}},
  "y":{"field":"value","type":"quantitative","scale":{"domain":[0,1.12],"nice":false},"axis":{"title":"AUROC","values":[0,0.2,0.4,0.6,0.8,1.0],"format":".1f"}},
  "color":{"field":"group","type":"nominal","scale":{"domain":["Qwen3-4B","Qwen3-30B","DeepSeek-V3.2","GPT-5-mini"],"range":["#a1aad8","#f4948d","#f7d9ae","#99d5a9"]},"legend":{"legendX":406,"legendY":1}}}},
{"data":{"name":"ds"},"transform":[{"filter":"datum.metric === 'ECE'"}],"title":"Average ECE across all models, grouped by dataset","width":452,"height":118,"mark":{"type":"bar"},
 "encoding":{
  "x":{"field":"method","type":"nominal","scale":{"domain":["CoT-single","CoT-sampling","TopK-single","TopK-sampling","VPD-single","VPD-sampling","Ling-single","Ling-sampling","SE","SelfCheck","SEU","EigV","Ecc","Deg","KLE","SINdex","SNNE","SPUQ","IncE","CCTA","PathWeight","Collab","ArgLLMs","BSDetector","DiNCo","SteerConf"],"paddingInner":0.16,"paddingOuter":0.6},"axis":{"title":null,"labelAngle":-45}},
  "xOffset":{"field":"group","type":"nominal","scale":{"domain":["TriviaQA","HotpotQA","CoQA"]}},
  "y":{"field":"value","type":"quantitative","scale":{"domain":[0,1.12],"nice":false},"axis":{"title":"ECE","values":[0,0.2,0.4,0.6,0.8,1.0],"format":".1f"}},
  "color":{"field":"group","type":"nominal","scale":{"domain":["TriviaQA","HotpotQA","CoQA"],"range":["#a1aad8","#f4948d","#f7d9ae"]},"legend":{"legendX":410,"legendY":1.5}}}},
{"data":{"name":"md"},"transform":[{"filter":"datum.metric === 'ECE'"}],"title":"Average ECE across all datasets, grouped by model","width":448,"height":118,"mark":{"type":"bar"},
 "encoding":{
  "x":{"field":"method","type":"nominal","scale":{"domain":["CoT-single","CoT-sampling","TopK-single","TopK-sampling","VPD-single","VPD-sampling","Ling-single","Ling-sampling","SE","SelfCheck","SEU","EigV","Ecc","Deg","KLE","SINdex","SNNE","SPUQ","IncE","CCTA","PathWeight","Collab","ArgLLMs","BSDetector","DiNCo","SteerConf"],"paddingInner":0.16,"paddingOuter":0.6},"axis":{"title":null,"labelAngle":-45}},
  "xOffset":{"field":"group","type":"nominal","scale":{"domain":["Qwen3-4B","Qwen3-30B","DeepSeek-V3.2","GPT-5-mini"]}},
  "y":{"field":"value","type":"quantitative","scale":{"domain":[0,1.12],"nice":false},"axis":{"title":"ECE","values":[0,0.2,0.4,0.6,0.8,1.0],"format":".1f"}},
  "color":{"field":"group","type":"nominal","scale":{"domain":["Qwen3-4B","Qwen3-30B","DeepSeek-V3.2","GPT-5-mini"],"range":["#a1aad8","#f4948d","#f7d9ae","#99d5a9"]},"legend":{"legendX":406,"legendY":1}}}},
{"data":{"name":"ds"},"transform":[{"filter":"datum.metric === 'Brier'"}],"title":"Average Brier across all models, grouped by dataset","width":452,"height":118,"mark":{"type":"bar"},
 "encoding":{
  "x":{"field":"method","type":"nominal","scale":{"domain":["CoT-single","CoT-sampling","TopK-single","TopK-sampling","VPD-single","VPD-sampling","Ling-single","Ling-sampling","SE","SelfCheck","SEU","EigV","Ecc","Deg","KLE","SINdex","SNNE","SPUQ","IncE","CCTA","PathWeight","Collab","ArgLLMs","BSDetector","DiNCo","SteerConf"],"paddingInner":0.16,"paddingOuter":0.6},"axis":{"title":null,"labelAngle":-45}},
  "xOffset":{"field":"group","type":"nominal","scale":{"domain":["TriviaQA","HotpotQA","CoQA"]}},
  "y":{"field":"value","type":"quantitative","scale":{"domain":[0,1.12],"nice":false},"axis":{"title":"Brier","values":[0,0.2,0.4,0.6,0.8,1.0],"format":".1f"}},
  "color":{"field":"group","type":"nominal","scale":{"domain":["TriviaQA","HotpotQA","CoQA"],"range":["#a1aad8","#f4948d","#f7d9ae"]},"legend":{"legendX":410,"legendY":1.5}}}},
{"data":{"name":"md"},"transform":[{"filter":"datum.metric === 'Brier'"}],"title":"Average Brier across all datasets, grouped by model","width":448,"height":118,"mark":{"type":"bar"},
 "encoding":{
  "x":{"field":"method","type":"nominal","scale":{"domain":["CoT-single","CoT-sampling","TopK-single","TopK-sampling","VPD-single","VPD-sampling","Ling-single","Ling-sampling","SE","SelfCheck","SEU","EigV","Ecc","Deg","KLE","SINdex","SNNE","SPUQ","IncE","CCTA","PathWeight","Collab","ArgLLMs","BSDetector","DiNCo","SteerConf"],"paddingInner":0.16,"paddingOuter":0.6},"axis":{"title":null,"labelAngle":-45}},
  "xOffset":{"field":"group","type":"nominal","scale":{"domain":["Qwen3-4B","Qwen3-30B","DeepSeek-V3.2","GPT-5-mini"]}},
  "y":{"field":"value","type":"quantitative","scale":{"domain":[0,1.12],"nice":false},"axis":{"title":"Brier","values":[0,0.2,0.4,0.6,0.8,1.0],"format":".1f"}},
  "color":{"field":"group","type":"nominal","scale":{"domain":["Qwen3-4B","Qwen3-30B","DeepSeek-V3.2","GPT-5-mini"],"range":["#a1aad8","#f4948d","#f7d9ae","#99d5a9"]},"legend":{"legendX":406,"legendY":1}}}}
]
}
